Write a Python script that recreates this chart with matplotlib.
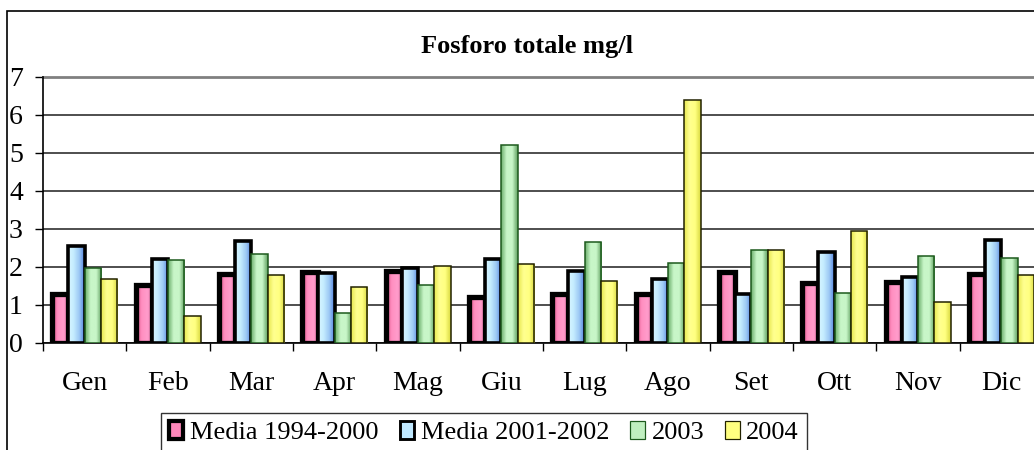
import numpy as np
import matplotlib
matplotlib.use("Agg")
from matplotlib import pyplot as plt
from matplotlib.colors import LinearSegmentedColormap
from matplotlib.patches import Rectangle, Patch

# Dati
mesi = ["Gen", "Feb", "Mar", "Apr", "Mag", "Giu", "Lug", "Ago", "Set", "Ott", "Nov", "Dic"]
serie = ["Media 1994-2000", "Media 2001-2002", "2003", "2004"]
media_94_00 = [1.29, 1.52, 1.81, 1.86, 1.90, 1.22, 1.28, 1.28, 1.86, 1.57, 1.60, 1.82]
media_01_02 = [2.55, 2.20, 2.68, 1.84, 1.98, 2.20, 1.90, 1.68, 1.28, 2.40, 1.73, 2.71]
anno_2003 = [1.97, 2.18, 2.34, 0.80, 1.52, 5.22, 2.65, 2.10, 2.45, 1.32, 2.29, 2.24]
anno_2004 = [1.68, 0.71, 1.79, 1.48, 2.03, 2.08, 1.62, 6.39, 2.45, 2.95, 1.07, 1.79]
valori = [media_94_00, media_01_02, anno_2003, anno_2004]

# Stile di ogni serie: (gradiente, colore bordo, spessore bordo)
gradienti = [
    ["#d84c82", "#ff8fc0", "#ff9ccb", "#f07aae"],
    ["#d8f6ff", "#c4ecff", "#9cc8f4", "#4f7fe0"],
    ["#6cae6c", "#c8f6c8", "#c8f6c8", "#5f9f5f"],
    ["#e8e850", "#ffff90", "#ffff80", "#d8d840"],
]
bordi = ["black", "black", "#1d5a1d", "#222200"]
spessori = [3.8, 2.6, 1.1, 1.1]
legenda_colori = ["#ff88bb", "#bfe8ff", "#c0f0c0", "#ffff80"]

plt.rcParams["font.family"] = ["Liberation Serif", "DejaVu Serif"]

fig = plt.figure(figsize=(10.34, 4.5), dpi=100)
ax = fig.add_axes([43 / 1034, 107 / 450, 1000 / 1034, 266 / 450])

x = np.arange(len(mesi))
w = 0.195
for i, vals in enumerate(valori):
    cmap = LinearSegmentedColormap.from_list("g%d" % i, gradienti[i])
    grad = np.linspace(0, 1, 64).reshape(1, -1)
    barre = ax.bar(x + (i - 1.5) * w, vals, w, facecolor="none",
                   edgecolor=bordi[i], linewidth=spessori[i], zorder=3 + i)
    for b in barre:
        img = ax.imshow(grad, cmap=cmap, aspect="auto", zorder=2.9 + i,
                        extent=[b.get_x(), b.get_x() + b.get_width(), 0, b.get_height()])
        img.set_clip_path(b)

ax.set_xlim(-0.5, len(mesi) - 0.5)
ax.set_ylim(0, 7)
ax.set_yticks(range(8))
ax.set_xticks(x)
ax.set_xticklabels(mesi)
ax.set_xticks(np.arange(-0.5, len(mesi)), minor=True)
ax.tick_params(axis="x", which="major", length=0, pad=20, labelsize=20)
ax.tick_params(axis="x", which="minor", length=6, width=1, direction="out")
ax.tick_params(axis="y", length=6, width=1, pad=8.5, labelsize=20)

ax.yaxis.grid(True, color="#303030", linewidth=1.2, zorder=0)
ax.set_axisbelow(True)
for lato in ["top", "right"]:
    ax.spines[lato].set_visible(False)
ax.spines["left"].set_linewidth(1.2)
ax.spines["bottom"].set_linewidth(1.2)
ax.axhline(7, color="#808080", linewidth=2, zorder=1, clip_on=False)

fig.text(527 / 1034, 1 - 46 / 450, "Fosforo totale mg/l", ha="center", va="center",
         fontsize=19, fontweight="bold")

handles = [Patch(facecolor=legenda_colori[i], edgecolor=bordi[i], linewidth=spessori[i] * 0.8)
           for i in range(4)]
leg = fig.legend(handles, serie, loc="upper left", bbox_to_anchor=(161 / 1034, 1 - 413 / 450),
                 ncol=4, fontsize=19, frameon=True, fancybox=False, handlelength=0.55,
                 handleheight=0.65, handletextpad=0.25, columnspacing=0.8, borderpad=0.3,
                 borderaxespad=0)
leg.get_frame().set_edgecolor("black")
leg.get_frame().set_linewidth(1)

# Cornice esterna del grafico
fig.patches.append(Rectangle((7 / 1034, -0.1), 1.2, 1 - 11 / 450 + 0.1, transform=fig.transFigure,
                             fill=False, edgecolor="black", linewidth=1.2))

fig.savefig("out.png", dpi=100)
